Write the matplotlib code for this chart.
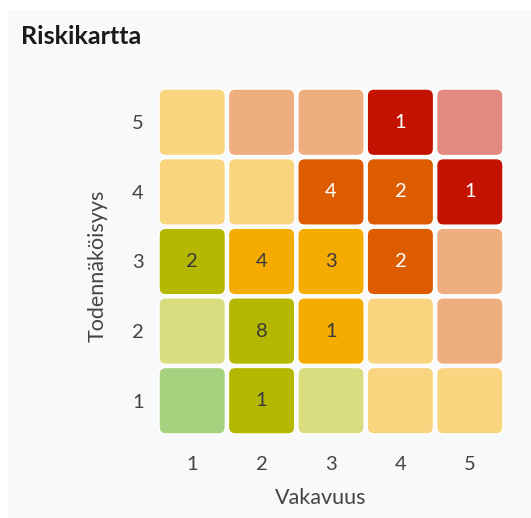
import matplotlib.pyplot as plt
from matplotlib.patches import FancyBboxPatch, Rectangle
from matplotlib.colors import to_rgb

plt.rcParams['font.family'] = ['Lato', 'DejaVu Sans']

# severity on x, probability on y
severity = [1, 2, 3, 4, 5]
probability = [1, 2, 3, 4, 5]

# number of risks per cell, rows = probability 1..5, cols = severity 1..5
counts = [
    [0, 1, 0, 0, 0],
    [0, 8, 1, 0, 0],
    [2, 4, 3, 2, 0],
    [0, 0, 4, 2, 1],
    [0, 0, 0, 1, 0],
]

# risk level of each cell (1 = low ... 5 = critical)
levels = [
    [1, 2, 2, 3, 3],
    [2, 2, 3, 3, 4],
    [2, 3, 3, 4, 4],
    [3, 3, 4, 4, 5],
    [3, 4, 4, 5, 5],
]

level_colors = {1: '#4da500', 2: '#b5b800', 3: '#f5ab00', 4: '#dd5c00', 5: '#c41200'}


def faded(c, a=0.5):
    r, g, b = to_rgb(c)
    return (1 - a + a * r, 1 - a + a * g, 1 - a + a * b)


W, H = 531, 518
fig = plt.figure(figsize=(W / 100, H / 100), dpi=100)
fig.patches.append(Rectangle((8 / W, 0), 1, 1 - 10 / H, transform=fig.transFigure,
                             facecolor='#f7f9fb', edgecolor='none', zorder=-1))

ax = fig.add_axes([157.5 / W, 1 - 435.5 / H, 347 / W, 348 / H])
ax.set_facecolor('none')

size = 0.96
for i, p in enumerate(probability):
    for j, s in enumerate(severity):
        n = counts[i][j]
        base = level_colors[levels[i][j]]
        color = base if n > 0 else faded(base)
        box = FancyBboxPatch((s - size / 2, p - size / 2), size, size,
                             boxstyle="round,pad=0,rounding_size=0.1",
                             facecolor=color, edgecolor='white', linewidth=1.2)
        ax.add_patch(box)
        if n > 0:
            tc = 'white' if levels[i][j] >= 4 else '#3a3a3a'
            ax.text(s, p, str(n), ha='center', va='center', fontsize=14.5, color=tc)

ax.set_xlim(0.5, 5.5)
ax.set_ylim(0.5, 5.5)
ax.set_xticks(severity)
ax.set_yticks(probability)
ax.tick_params(length=0, labelsize=14.5, labelcolor='#444444')
ax.tick_params(axis='x', pad=15)
ax.tick_params(axis='y', pad=10)
for sp in ax.spines.values():
    sp.set_visible(False)

fig.text(21 / W, 1 - 37 / H, 'Riskikartta', fontsize=18, fontweight='bold',
         color='#1a1a1a', va='center')
fig.text(321 / W, 1 - 498 / H, 'Vakavuus', fontsize=15.5, color='#444444',
         ha='center', va='center')
fig.text(98 / W, 1 - 266 / H, 'Todennäköisyys', fontsize=15.5, color='#444444',
         rotation=90, ha='center', va='center')

fig.savefig('out.png', dpi=100)
